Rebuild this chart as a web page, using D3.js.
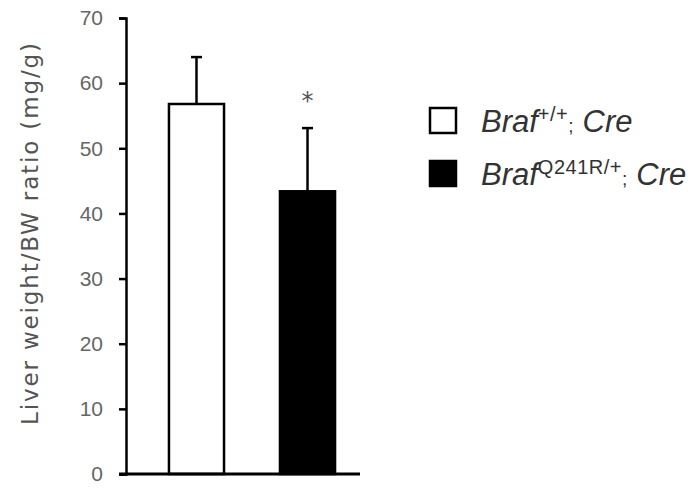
<!DOCTYPE html>
<html>
<head>
<meta charset="utf-8">
<script src="https://cdn.jsdelivr.net/npm/d3@7"></script>
<style>
  body { margin: 0; background: #fff; }
  text { font-family: "Liberation Sans", Arial, sans-serif; }
</style>
</head>
<body>
<svg id="chart" width="695" height="488"></svg>
<script>
const groups = ["wt", "mut"];
const means = [56.8, 43.4];
const errors = [7.2, 9.7];
const fills = ["#fff", "#000"];
const yTicks = [0, 10, 20, 30, 40, 50, 60, 70];
const marks = ["", "*"];
const legendSups = ["+/+", "Q241R/+"];

const svg = d3.select("#chart");

const y = d3.scaleLinear().domain([0, 70]).range([474, 18]);
// bars at 168-225 and 279-337
const x = d3.scaleBand().domain(groups).range([126, 378])
  .paddingInner(0.486).paddingOuter(0.378);

const g = svg.append("g");

// bars
g.selectAll("rect.bar")
  .data(groups)
  .join("rect")
    .attr("class", "bar")
    .attr("x", d => x(d) + 1)
    .attr("y", (d, i) => y(means[i]))
    .attr("width", x.bandwidth() - 2)
    .attr("height", (d, i) => y(0) - y(means[i]))
    .attr("fill", (d, i) => fills[i])
    .attr("stroke", "#000")
    .attr("stroke-width", 2.5);

// error bars (upper half only)
groups.forEach((d, i) => {
  const cx = x(d) + x.bandwidth() / 2;
  const top = y(means[i] + errors[i]);
  g.append("line")
    .attr("x1", cx).attr("x2", cx)
    .attr("y1", y(means[i])).attr("y2", top)
    .attr("stroke", "#000").attr("stroke-width", 2.5);
  g.append("line")
    .attr("x1", cx - 5.5).attr("x2", cx + 5.5)
    .attr("y1", top).attr("y2", top)
    .attr("stroke", "#000").attr("stroke-width", 2.5);
  if (marks[i]) {
    g.append("text")
      .attr("x", cx).attr("y", top - 19)
      .attr("text-anchor", "middle")
      .attr("font-size", 24).attr("fill", "#555")
      .style("font-family", "'DejaVu Sans', sans-serif")
      .text(marks[i]);
  }
});

// y axis
const yAxis = g.append("g")
  .attr("transform", "translate(126,0)")
  .call(d3.axisLeft(y).tickValues(yTicks).tickSize(7).tickPadding(16));
yAxis.select(".domain").attr("stroke", "#000").attr("stroke-width", 2.5);
yAxis.selectAll(".tick line").attr("stroke", "#000").attr("stroke-width", 2.5);
yAxis.selectAll(".tick text").attr("font-size", 21).attr("fill", "#666");

// baseline
g.append("line")
  .attr("x1", 119).attr("x2", 360)
  .attr("y1", y(0)).attr("y2", y(0))
  .attr("stroke", "#000").attr("stroke-width", 3);

// y title
g.append("text")
  .attr("transform", `translate(38,234) rotate(-90)`)
  .attr("text-anchor", "middle")
  .attr("font-size", 23).attr("fill", "#555")
  .attr("textLength", 382).attr("lengthAdjust", "spacing")
  .style("font-family", "'DejaVu Sans', sans-serif")
  .text("Liver weight/BW ratio (mg/g)");

// legend
const legend = g.selectAll("g.leg")
  .data(groups)
  .join("g")
    .attr("class", "leg")
    .attr("transform", (d, i) => `translate(430,${108 + i * 53})`);
legend.append("rect")
  .attr("x", 0).attr("y", 0)
  .attr("width", 26).attr("height", 25)
  .attr("fill", (d, i) => fills[i])
  .attr("stroke", "#000").attr("stroke-width", 2.5);
const lt = legend.append("text")
  .attr("x", 51).attr("y", 24)
  .attr("font-size", 31).attr("fill", "#333")
  .attr("font-style", "italic");
lt.append("tspan").text("Braf");
lt.append("tspan").attr("dy", -11).attr("font-size", 20).attr("font-style", "normal")
  .attr("letter-spacing", 0.5)
  .text((d, i) => legendSups[i]);
lt.append("tspan").attr("dy", 11).attr("font-size", 19).attr("font-style", "normal").text(";");
lt.append("tspan").attr("dx", 9).text("Cre");
</script>
</body>
</html>
